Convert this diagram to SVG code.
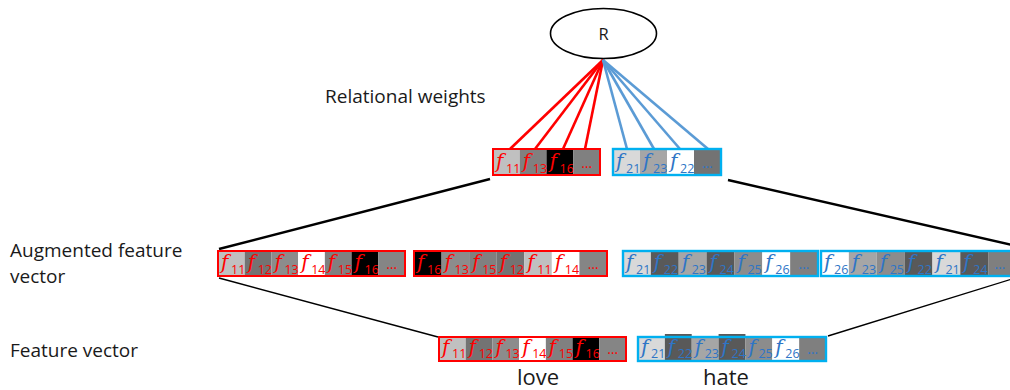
<svg xmlns="http://www.w3.org/2000/svg" width="1010" height="390" viewBox="0 0 1010 390">
  <style>
    .label { font-family: "Open Sans", "Noto Sans", sans-serif; font-size: 19px; fill: #1a1a1a; }
    .rname { font-family: "Open Sans", "Noto Sans", sans-serif; font-size: 16.5px; fill: #1a1a1a; }
    .word { font-family: "Open Sans", "Noto Sans", sans-serif; font-size: 22px; fill: #1a1a1a; }
    .fr { font-family: "DejaVu Serif", serif; font-style: italic; font-size: 20px; }
    .sub { font-family: "Open Sans", "Noto Sans", sans-serif; font-size: 12.5px; }
    .dots { font-family: "Open Sans", "Noto Sans", sans-serif; font-size: 14px; }
    .red text { fill: #ff0000; }
    .blue text { fill: #2e75c6; }
    .red .frame { fill: none; stroke: #ff0000; stroke-width: 2; }
    .blue .frame { fill: none; stroke: #00b0f0; stroke-width: 2.4; }
    .wr { stroke: #ff0000; stroke-width: 2.6; }
    .wb { stroke: #5b9bd5; stroke-width: 2.6; }
    .thick { stroke: #000; stroke-width: 2.4; }
    .thin { stroke: #000; stroke-width: 1.4; }
  </style>

  <!-- connectors -->
  <g id="connectors" fill="none">
    <line class="wr" x1="603" y1="60" x2="510" y2="149"/>
    <line class="wr" x1="603" y1="60" x2="535" y2="149"/>
    <line class="wr" x1="603" y1="60" x2="563" y2="149"/>
    <line class="wr" x1="603" y1="60" x2="585" y2="149"/>
    <line class="wb" x1="603" y1="60" x2="627" y2="149"/>
    <line class="wb" x1="603" y1="60" x2="654" y2="149"/>
    <line class="wb" x1="603" y1="60" x2="680" y2="149"/>
    <line class="wb" x1="603" y1="60" x2="708" y2="149"/>
    <line class="thick" x1="490" y1="179" x2="219" y2="249"/>
    <line class="thick" x1="728" y1="180" x2="1012" y2="245"/>
    <line class="thin" x1="219" y1="278" x2="438" y2="337"/>
    <line class="thin" x1="828" y1="336" x2="1012" y2="279"/>
  </g>

  <!-- relation node -->
  <g id="node-R">
    <ellipse cx="603.5" cy="33.5" rx="53" ry="25" fill="#fff" stroke="#000" stroke-width="1.6"/>
    <text class="rname" x="603.5" y="39.5" text-anchor="middle">R</text>
  </g>

  <!-- relational weights: love -->
  <g id="node-weights-love" class="red">
    <rect x="493" y="149" width="26.75" height="26" fill="#c0c0c0"/>
    <rect x="519.75" y="149" width="26.75" height="26" fill="#808080"/>
    <rect x="546.5" y="149" width="26.75" height="26" fill="#000"/>
    <rect x="573.25" y="149" width="26.75" height="26" fill="#808080"/>
    <text class="fr" x="496" y="168">f</text><text class="sub" x="506" y="173">11</text>
    <text class="fr" x="522.75" y="168">f</text><text class="sub" x="532.75" y="173">13</text>
    <text class="fr" x="549.5" y="168">f</text><text class="sub" x="559.5" y="173">16</text>
    <text class="dots" x="586.6" y="168" text-anchor="middle">…</text>
    <rect class="frame" x="493" y="149" width="107" height="26"/>
  </g>

  <!-- relational weights: hate -->
  <g id="node-weights-hate" class="blue">
    <rect x="613" y="149" width="27" height="26" fill="#d9d9d9"/>
    <rect x="640" y="149" width="27" height="26" fill="#a6a6a6"/>
    <rect x="667" y="149" width="27" height="26" fill="#fff"/>
    <rect x="694" y="149" width="27" height="26" fill="#737373"/>
    <text class="fr" x="616" y="168">f</text><text class="sub" x="626" y="173">21</text>
    <text class="fr" x="643" y="168">f</text><text class="sub" x="653" y="173">23</text>
    <text class="fr" x="670" y="168">f</text><text class="sub" x="680" y="173">22</text>
    <text class="dots" x="707.5" y="168" text-anchor="middle">…</text>
    <rect class="frame" x="613" y="149" width="108" height="26"/>
  </g>

  <!-- augmented feature vector: love, original order -->
  <g id="node-aug-love-a" class="red">
    <rect x="218" y="251" width="26.71" height="25" fill="#c0c0c0"/>
    <rect x="244.71" y="251" width="26.71" height="25" fill="#737373"/>
    <rect x="271.42" y="251" width="26.71" height="25" fill="#8c8c8c"/>
    <rect x="298.13" y="251" width="26.71" height="25" fill="#fff"/>
    <rect x="324.84" y="251" width="26.71" height="25" fill="#808080"/>
    <rect x="351.55" y="251" width="26.71" height="25" fill="#000"/>
    <rect x="378.26" y="251" width="26.74" height="25" fill="#858585"/>
    <text class="fr" x="221" y="269">f</text><text class="sub" x="231" y="274">11</text>
    <text class="fr" x="247.71" y="269">f</text><text class="sub" x="257.71" y="274">12</text>
    <text class="fr" x="274.42" y="269">f</text><text class="sub" x="284.42" y="274">13</text>
    <text class="fr" x="301.13" y="269">f</text><text class="sub" x="311.13" y="274">14</text>
    <text class="fr" x="327.84" y="269">f</text><text class="sub" x="337.84" y="274">15</text>
    <text class="fr" x="354.55" y="269">f</text><text class="sub" x="364.55" y="274">16</text>
    <text class="dots" x="391.6" y="269" text-anchor="middle">…</text>
    <rect class="frame" x="218" y="251" width="187" height="25"/>
  </g>

  <!-- augmented feature vector: love, shuffled -->
  <g id="node-aug-love-b" class="red">
    <rect x="414" y="251" width="27.57" height="25" fill="#000"/>
    <rect x="441.57" y="251" width="27.57" height="25" fill="#8c8c8c"/>
    <rect x="469.14" y="251" width="27.57" height="25" fill="#808080"/>
    <rect x="496.71" y="251" width="27.57" height="25" fill="#737373"/>
    <rect x="524.28" y="251" width="27.57" height="25" fill="#c0c0c0"/>
    <rect x="551.85" y="251" width="27.57" height="25" fill="#fff"/>
    <rect x="579.42" y="251" width="27.58" height="25" fill="#858585"/>
    <text class="fr" x="417" y="269">f</text><text class="sub" x="427" y="274">16</text>
    <text class="fr" x="444.57" y="269">f</text><text class="sub" x="454.57" y="274">13</text>
    <text class="fr" x="472.14" y="269">f</text><text class="sub" x="482.14" y="274">15</text>
    <text class="fr" x="499.71" y="269">f</text><text class="sub" x="509.71" y="274">12</text>
    <text class="fr" x="527.28" y="269">f</text><text class="sub" x="537.28" y="274">11</text>
    <text class="fr" x="554.85" y="269">f</text><text class="sub" x="564.85" y="274">14</text>
    <text class="dots" x="593.2" y="269" text-anchor="middle">…</text>
    <rect class="frame" x="414" y="251" width="193" height="25"/>
  </g>

  <!-- augmented feature vector: hate, original order -->
  <g id="node-aug-hate-a" class="blue">
    <rect x="623" y="251" width="27.86" height="25" fill="#d9d9d9"/>
    <rect x="650.86" y="251" width="27.86" height="25" fill="#595959"/>
    <rect x="678.72" y="251" width="27.86" height="25" fill="#a6a6a6"/>
    <rect x="706.58" y="251" width="27.86" height="25" fill="#595959"/>
    <rect x="734.44" y="251" width="27.86" height="25" fill="#8c8c8c"/>
    <rect x="762.3" y="251" width="27.86" height="25" fill="#fff"/>
    <rect x="790.16" y="251" width="27.84" height="25" fill="#7f7f7f"/>
    <text class="fr" x="626" y="269">f</text><text class="sub" x="636" y="274">21</text>
    <text class="fr" x="653.86" y="269">f</text><text class="sub" x="663.86" y="274">22</text>
    <text class="fr" x="681.72" y="269">f</text><text class="sub" x="691.72" y="274">23</text>
    <text class="fr" x="709.58" y="269">f</text><text class="sub" x="719.58" y="274">24</text>
    <text class="fr" x="737.44" y="269">f</text><text class="sub" x="747.44" y="274">25</text>
    <text class="fr" x="765.3" y="269">f</text><text class="sub" x="775.3" y="274">26</text>
    <text class="dots" x="804" y="269" text-anchor="middle">…</text>
    <rect class="frame" x="623" y="251" width="195" height="25"/>
  </g>

  <!-- augmented feature vector: hate, shuffled -->
  <g id="node-aug-hate-b" class="blue">
    <rect x="821" y="251" width="27.86" height="25" fill="#fff"/>
    <rect x="848.86" y="251" width="27.86" height="25" fill="#a6a6a6"/>
    <rect x="876.72" y="251" width="27.86" height="25" fill="#8c8c8c"/>
    <rect x="904.58" y="251" width="27.86" height="25" fill="#595959"/>
    <rect x="932.44" y="251" width="27.86" height="25" fill="#d9d9d9"/>
    <rect x="960.3" y="251" width="27.86" height="25" fill="#595959"/>
    <rect x="988.16" y="251" width="27.84" height="25" fill="#7f7f7f"/>
    <text class="fr" x="824" y="269">f</text><text class="sub" x="834" y="274">26</text>
    <text class="fr" x="851.86" y="269">f</text><text class="sub" x="861.86" y="274">23</text>
    <text class="fr" x="879.72" y="269">f</text><text class="sub" x="889.72" y="274">25</text>
    <text class="fr" x="907.58" y="269">f</text><text class="sub" x="917.58" y="274">22</text>
    <text class="fr" x="935.44" y="269">f</text><text class="sub" x="945.44" y="274">21</text>
    <text class="fr" x="963.3" y="269">f</text><text class="sub" x="973.3" y="274">24</text>
    <text class="dots" x="1000" y="269" text-anchor="middle">…</text>
    <rect class="frame" x="821" y="251" width="195" height="25"/>
  </g>

  <!-- feature vector: love -->
  <g id="node-feat-love" class="red">
    <rect x="439" y="337" width="26.71" height="24" fill="#c0c0c0"/>
    <rect x="465.71" y="337" width="26.71" height="24" fill="#737373"/>
    <rect x="492.42" y="337" width="26.71" height="24" fill="#8c8c8c"/>
    <rect x="519.13" y="337" width="26.71" height="24" fill="#fff"/>
    <rect x="545.84" y="337" width="26.71" height="24" fill="#808080"/>
    <rect x="572.55" y="337" width="26.71" height="24" fill="#000"/>
    <rect x="599.26" y="337" width="26.74" height="24" fill="#858585"/>
    <text class="fr" x="442" y="354">f</text><text class="sub" x="452" y="357.5">11</text>
    <text class="fr" x="468.71" y="354">f</text><text class="sub" x="478.71" y="357.5">12</text>
    <text class="fr" x="495.42" y="354">f</text><text class="sub" x="505.42" y="357.5">13</text>
    <text class="fr" x="522.13" y="354">f</text><text class="sub" x="532.13" y="357.5">14</text>
    <text class="fr" x="548.84" y="354">f</text><text class="sub" x="558.84" y="357.5">15</text>
    <text class="fr" x="575.55" y="354">f</text><text class="sub" x="585.55" y="357.5">16</text>
    <text class="dots" x="612.6" y="354" text-anchor="middle">…</text>
    <rect class="frame" x="439" y="337" width="187" height="24"/>
  </g>

  <!-- feature vector: hate -->
  <g id="node-feat-hate" class="blue">
    <rect x="638" y="337" width="26.86" height="24" fill="#d9d9d9"/>
    <rect x="664.86" y="334" width="26.86" height="27" fill="#595959"/>
    <rect x="691.72" y="337" width="26.86" height="24" fill="#a6a6a6"/>
    <rect x="718.58" y="334" width="26.86" height="27" fill="#595959"/>
    <rect x="745.44" y="337" width="26.86" height="24" fill="#8c8c8c"/>
    <rect x="772.3" y="337" width="26.86" height="24" fill="#fff"/>
    <rect x="799.16" y="337" width="26.84" height="24" fill="#7f7f7f"/>
    <rect class="frame" x="638" y="337" width="188" height="24"/>
    <text class="fr" x="641" y="354">f</text><text class="sub" x="651" y="357.5">21</text>
    <text class="fr" x="667.86" y="354">f</text><text class="sub" x="677.86" y="357.5">22</text>
    <text class="fr" x="694.72" y="354">f</text><text class="sub" x="704.72" y="357.5">23</text>
    <text class="fr" x="721.58" y="354">f</text><text class="sub" x="731.58" y="357.5">24</text>
    <text class="fr" x="748.44" y="354">f</text><text class="sub" x="758.44" y="357.5">25</text>
    <text class="fr" x="775.3" y="354">f</text><text class="sub" x="785.3" y="357.5">26</text>
    <text class="dots" x="812.6" y="354" text-anchor="middle">…</text>
  </g>

  <!-- row labels -->
  <g id="labels">
    <text class="label" x="325" y="103">Relational weights</text>
    <text class="label" x="10" y="257">Augmented feature</text>
    <text class="label" x="10" y="283">vector</text>
    <text class="label" x="10" y="357">Feature vector</text>
    <text class="word" x="517" y="385">love</text>
    <text class="word" x="703" y="385">hate</text>
  </g>
</svg>
